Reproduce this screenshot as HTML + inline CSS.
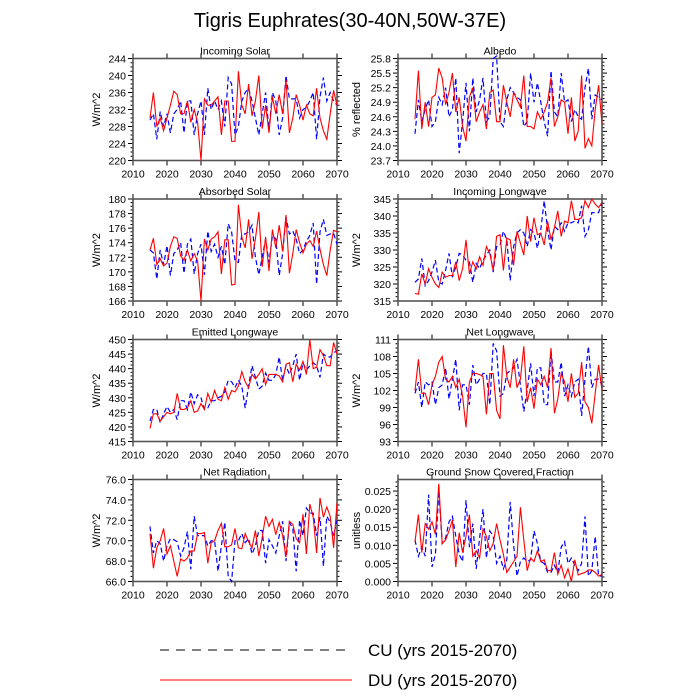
<!DOCTYPE html>
<html><head><meta charset="utf-8"><style>
body{margin:0;background:#fff}
svg{display:block;font-family:"Liberation Sans",sans-serif}
</style></head><body>
<svg id="c" width="700" height="700" viewBox="0 0 700 700">
<text x="350" y="27" text-anchor="middle" font-size="20">Tigris Euphrates(30-40N,50W-37E)</text>
<g id="panels"></g>
<line x1="160" y1="650" x2="352" y2="650" stroke="#000" stroke-width="1" stroke-dasharray="9,7"/>
<text x="368" y="656" font-size="17">CU (yrs 2015-2070)</text>
<line x1="160" y1="680" x2="352" y2="680" stroke="#ff0000" stroke-width="1"/>
<text x="368" y="686" font-size="17">DU (yrs 2015-2070)</text>
</svg>
<script>
const startYear = 2015;
const xTicks = [2010,2020,2030,2040,2050,2060,2070];
const titles = ["Incoming Solar","Albedo","Absorbed Solar","Incoming Longwave","Emitted Longwave","Net Longwave","Net Radiation","Ground Snow Covered Fraction"];
const yTitles = ["W/m^2","% reflected","W/m^2","W/m^2","W/m^2","W/m^2","W/m^2","unitless"];
const yMins = [220,23.7,166,315,415,93,66,0];
const yMaxs = [244,25.8,180,345,450,111,76,0.0282];
const yStep = [4,0.3,2,5,5,3,2,0.005];
const yDec = [0,1,0,0,0,0,1,3];

const duSolarIn = [230,236,228,230,227,230,233,236.3,235.5,231,231,234,229,232,229,220,234.5,233,233,234,235,226,234,234,224.5,224.5,241,233,231,238,230.5,234,240,227.5,233,226.5,235,231,235.5,231,239,226.5,230,235.5,233,229.5,233,231,230.5,237,230,227,225,231,236.5,233];
const cuSolarIn = [229.5,231,225,231.5,228,231,226.5,231,232,234,226.5,234,234,226,231,234,226,237,232,234,232,234,228,239.5,238,226,228,234,236,237,234,230,226,231,236,227,236,234,226,230,240,234.5,234.5,234.5,230,232,232.5,234,236,225,235,239.5,234,236,234,233];
const duAlbedo = [24.55,25.55,24.35,24.9,24.4,25.0,25.05,25.6,25.4,24.85,25.1,25.5,24.7,25.0,24.4,24.1,25.0,25.2,24.5,24.7,24.85,24.35,25.1,25.15,24.5,24.5,25.25,24.9,24.6,25.1,24.95,24.8,25.45,24.4,24.4,24.35,24.7,24.55,24.7,24.9,25.4,24.4,24.6,24.95,24.9,24.25,25.0,24.1,24.3,25.45,23.95,24.15,24.0,24.75,25.25,24.45];
const cuAlbedo = [24.25,24.95,24.5,24.75,24.95,24.4,24.5,25.0,24.85,25.2,24.6,24.75,25.4,23.85,24.5,25.3,24.3,25.4,24.7,24.95,25.4,24.5,24.6,25.8,25.85,24.5,24.4,24.95,25.2,25.1,25.0,24.95,24.4,24.5,25.5,24.9,25.3,24.9,24.5,24.2,25.55,24.7,24.6,25.5,24.9,24.95,24.5,24.75,24.6,24.55,25.2,25.6,24.55,25.05,25.0,24.95];
const duAbs = [173,174.6,171,171.8,170.8,171.2,173.5,174.8,174.6,172.2,171.6,173,171.5,172.5,171.5,166,174.5,173,174.5,174.8,175.5,169.7,174.4,174.4,168.2,168.3,179.2,174.8,173.3,177.2,171.8,174.5,178.2,170.7,174.8,170.1,175.8,173.3,176.4,172.8,177.8,169.8,172.5,175.8,174,172.6,173.8,174.3,173.5,175.6,173.1,171,169.5,173,175.7,175.5];
const cuAbs = [173,172.6,169,173,171,173.6,169.5,172.5,173,174,169.8,173.8,174.5,169.7,172.5,173.8,169.6,175.6,172.8,173.8,172,173.5,171,176.6,175.5,171.5,171.3,175.2,175.2,175.5,176.4,172,169.6,172,174.5,171.3,175,174.5,169.5,172.5,177.5,175.2,175.6,174.5,172.5,173,174.2,175,176.7,168.3,175.5,177.2,175,175.2,175.3,173.8];
const duLwIn = [317.2,317,323,320,324.5,322,320,319,323.5,322,322.5,322.5,326.5,321,324.5,333,323,326.5,324.5,328,325.5,331,329,324,334,334.5,324,333.5,333,325.5,335.5,332,328.5,340,332.5,339.5,334.5,335,331.5,338.5,333,336.5,341.5,334,338.5,338,344.5,339,339,339.5,344.5,342.5,345,343.5,342.5,344];
const cuLwIn = [320.5,321.5,327.5,319.5,321,323.5,327,320.5,320,324,329,322,325,329,328.5,327,326.5,320.5,326,324.5,327,328.5,330,323.5,331,331.5,335.5,333,321,331,335,336,335,331,336,335,330.5,336,344.5,336,330,337,336,338,335.5,338,338,338.5,338,343,334,336,341,341,341,344];
const duLwOut = [419.5,424.5,424.5,422,423.5,425,424.5,425,431.5,426,426,426.5,429,425,425.5,428,426,431.5,428.5,432.5,429.5,429,433.5,429.5,432.5,432,434,439,435.5,433.5,438,436.5,438,440,434.5,438,438,438,437.5,435.5,441.5,442,435.5,441.5,439.5,442.5,438,450,440,440.5,446.5,444.5,441,441,449,445];
const cuLwOut = [422,426,426,421.5,424.5,427,425,426,422.5,429,429,426,432,428,431,430,426,426.5,429,429,430,430.5,432,436,435.5,433.5,436,434,426.5,434,441,437,433,434,438.5,436,436,438,444,436,441,438,441,445,436,442,439.5,441,442,441,437,445,444,444,445.5,446];
const duLwNet = [102,107.5,101.5,101.5,99.5,103,104.5,107,108,104,103.5,104.5,102.5,104,101,95.5,103.5,105,105,104.8,104.5,97.8,105,105,98.5,97,110,104.5,102.5,107.5,102.5,104,109.8,100,102.5,98.8,104,103,104.5,102.5,109.5,98,100.5,105,103.5,100,105,100.8,101.5,107,100,99,96.2,101.5,106.5,102];
const cuLwNet = [101.5,103.5,99,103.5,103,103.5,99.5,102.5,103,106,100.5,104,107.5,98.5,103,103,99.5,106.5,103,104,105,105,99.5,110.3,109,101,101.5,105,105.5,106,107.5,103,98.3,102,106.8,101,106,106,99.5,99.5,109,103.5,103.5,107,101,103,101,103.5,104,97.5,104,109.8,102.5,104,104,103];
const duNetRad = [70.7,67.3,69.3,70,71.2,68.7,69.5,68,66.5,68.2,68,68.3,69,69,70.7,70.7,70.8,67.8,69.8,70,71,71.7,69.4,69.4,69.6,71.2,69.3,69.2,70.7,69.9,69.3,71,68.5,70.3,72.4,71.4,72.1,70.6,71.8,70.5,68.4,71.9,71.6,70.2,69.8,72.6,68.7,73.6,72.3,68.8,74.2,72.3,73.3,72.4,69.3,73.7];
const cuNetRad = [71.4,68.8,70,69.7,68,69.5,70.2,70.1,69.9,68.5,69.3,70.9,67.2,72.4,70.5,70.5,70.5,69.5,70,70,67,69.5,71.8,66.5,66,70,70,70.7,69.8,70.2,68.7,69.5,71,71,67.8,70.1,69.5,68.8,70.5,71.9,68,71.8,71.2,67,72,70.5,73.2,72.7,72.7,70.5,72.3,67.5,72.4,71.8,70.5,72];
const duSnow = [0.011,0.0185,0.008,0.016,0.0145,0.0165,0.013,0.027,0.0105,0.0115,0.014,0.017,0.004,0.0135,0.008,0.0125,0.0185,0.007,0.0085,0.0065,0.0145,0.0125,0.0085,0.0105,0.016,0.0115,0.0075,0.0025,0.004,0.0055,0.007,0.0205,0.0115,0.003,0.0065,0.0055,0.0085,0.0055,0.006,0.003,0.003,0.008,0.002,0.0045,0.001,0.0035,0.0,0.006,0.0018,0.0022,0.0025,0.0032,0.0032,0.0025,0.0015,0.002];
const cuSnow = [0.0115,0.007,0.0095,0.007,0.024,0.004,0.0075,0.025,0.0105,0.012,0.0165,0.018,0.0125,0.0075,0.0055,0.0225,0.0095,0.016,0.0035,0.012,0.02,0.0065,0.014,0.0125,0.005,0.007,0.0035,0.006,0.022,0.01,0.0015,0.0055,0.0065,0.0055,0.006,0.014,0.0105,0.0055,0.005,0.0025,0.0025,0.0045,0.0025,0.0095,0.011,0.005,0.0065,0.0045,0.003,0.005,0.018,0.0015,0.003,0.0125,0.0015,0.0015];

const duSeries = [duSolarIn,duAlbedo,duAbs,duLwIn,duLwOut,duLwNet,duNetRad,duSnow];
const cuSeries = [cuSolarIn,cuAlbedo,cuAbs,cuLwIn,cuLwOut,cuLwNet,cuNetRad,cuSnow];

const NS="http://www.w3.org/2000/svg";
const root=document.getElementById('panels');
function mk(tag,attrs,parent){const e=document.createElementNS(NS,tag);for(const k in attrs)e.setAttribute(k,attrs[k]);(parent||root).appendChild(e);return e;}
const W=204,H=102;
const lefts=[133,398], tops=[58.5,199,339.5,479.5];
for(let p=0;p<8;p++){
  const L=lefts[p%2], T=tops[Math.floor(p/2)];
  const g=mk('g',{});
  
  
  const xs=v=>L+(v-2010)/60*W;
  const ys=v=>T+H-(v-yMins[p])/(yMaxs[p]-yMins[p])*H;
  // x ticks
  xTicks.forEach(t=>{
    const x=xs(t);
    const tl=mk('line',{x1:x,x2:x,y1:T+H,y2:T+H+5,stroke:'#000','stroke-width':1},g);
    
    
    mk('line',{x1:x,x2:x,y1:T,y2:T-5,stroke:'#000','stroke-width':1},g);
    const tx=mk('text',{x:x,y:T+H+17,'text-anchor':'middle','font-size':10.5},g);
    tx.textContent=t;
    
    
  });
  // y ticks
  const st=yStep[p], minor=st/4;
  const nMinor=Math.floor((yMaxs[p]-yMins[p])/minor+1e-6);
  for(let i=0;i<=nMinor;i++){
    const v=yMins[p]+i*minor, y=ys(v);
    const major=(i%4===0);
    const len=major?5:2.5;
    mk('line',{x1:L,x2:L-len,y1:y,y2:y,stroke:'#000','stroke-width':1},g);
    mk('line',{x1:L+W,x2:L+W+len,y1:y,y2:y,stroke:'#000','stroke-width':1},g);
    if(major){
      const tx=mk('text',{x:L-7,y:y+4,'text-anchor':'end','font-size':10.5},g);
      tx.textContent=v.toFixed(yDec[p]);
      
      
    }
  }
  const fr=mk('rect',{x:L,y:T,width:W,height:H,fill:'none',stroke:'#555','stroke-width':1.6},g);
  
  
  const tt=mk('text',{x:L+W/2,y:T-4,'text-anchor':'middle','font-size':10.5},g);
  tt.textContent=titles[p];
  
  
  const ax=(p%2===0)?L-33:L-38;
  const yt=mk('text',{x:ax,y:T+H/2,'text-anchor':'middle','font-size':11,transform:`rotate(-90 ${ax} ${T+H/2})`},g);
  yt.textContent=yTitles[p];
  
  
  const pts=a=>a.map((v,i)=>xs(startYear+i).toFixed(2)+','+ys(v).toFixed(2)).join(' ');
  const cu=mk('polyline',{points:pts(cuSeries[p]),fill:'none',stroke:'#0000ff','stroke-width':1.2,'stroke-dasharray':'5,3'},g);
  
  
  const du=mk('polyline',{points:pts(duSeries[p]),fill:'none',stroke:'#ff0000','stroke-width':1.1},g);
  
  
}
</script>
</body></html>
